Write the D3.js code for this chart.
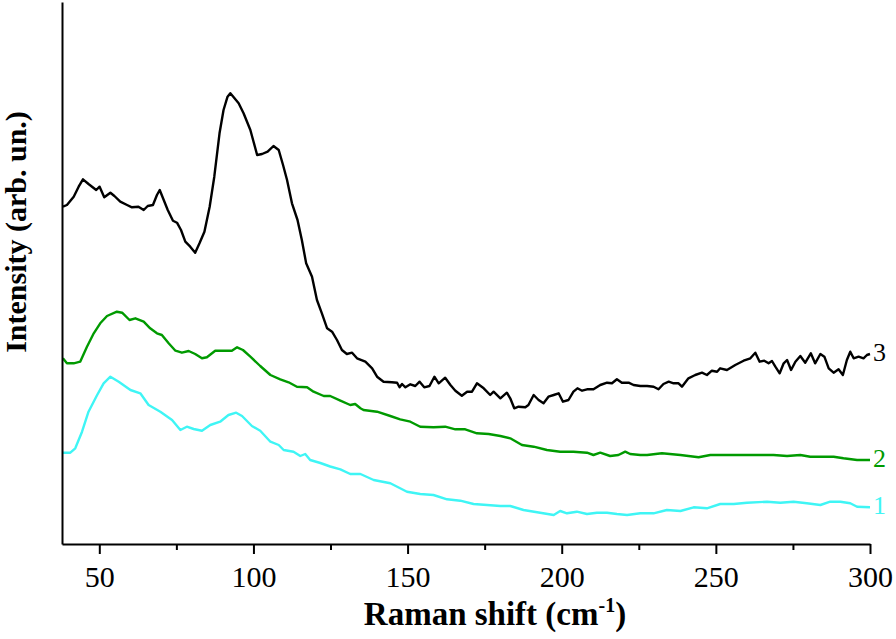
<!DOCTYPE html>
<html>
<head>
<meta charset="utf-8">
<script src="https://cdn.jsdelivr.net/npm/d3@7"></script>
<style>
  html, body { margin: 0; padding: 0; background: #fff; }
  svg { display: block; }
</style>
</head>
<body>
<svg id="chart" width="896" height="639"></svg>
<script>
// Raman shift (cm-1) positions and intensities (arb. un.)
const series3X = [38.2,39.5,41.7,43.3,44.7,46.5,49.0,50.1,51.6,53.6,54.9,56.8,59.0,60.6,62.7,64.4,65.7,67.4,68.7,69.6,70.9,72.2,73.9,75.2,76.5,77.9,79.5,81.1,82.5,84.1,85.8,87.3,89.0,90.3,91.6,92.5,93.6,95.2,96.8,99.0,101.2,102.8,104.6,106.5,108.2,109.6,110.9,112.5,114.3,115.7,117.1,119.0,120.6,122.2,123.9,125.5,127.1,128.7,130.3,132.0,133.6,136.3,138.5,140.1,142.2,144.9,146.6,147.4,148.2,149.3,150.9,152.5,153.9,155.4,157.1,158.7,160.1,162.2,163.9,165.5,167.6,169.3,170.9,172.5,174.7,176.8,177.9,180.1,182.2,183.3,184.6,186.0,188.2,189.2,190.9,192.5,194.1,195.7,197.4,199.0,200.4,202.2,203.8,205.1,206.6,208.2,210.3,212.5,214.7,216.3,217.9,219.5,221.7,223.3,225.5,227.7,229.8,231.4,233.0,234.7,236.3,237.9,239.0,241.1,243.3,245.5,247.1,248.7,250.4,251.4,253.6,256.3,259.0,261.2,262.8,264.2,265.7,267.1,268.2,269.3,270.7,272.0,273.1,274.4,275.8,277.4,279.0,280.8,282.2,283.9,285.2,286.6,288.2,289.8,291.2,292.5,293.6,294.7,296.3,297.9,299.0,300.0];
const series3Y = [337.3,339,347.3,357.3,364.7,360,354,357.3,346.7,351.3,348,342.3,339,336.7,337.3,334,338,339,349,354,344,334,323.3,321.3,314,302.3,297.3,291.3,300.7,312.3,337.3,367.3,410.7,434,447.3,450.7,446.7,440.7,430.7,414,389,390,392.3,398,394,379,364,340.7,324,304,280.7,267.3,244,230.7,215.7,212.3,204,194,190,191.3,185.7,182.3,175.7,167.3,162.3,161.7,161.3,156.7,160,156.7,159.7,158,162.3,156.7,158,167.3,160.7,166.3,159,153.3,148.3,152.3,152.3,160.7,155.7,149,152.3,145.7,151.3,145.7,135.7,137.3,136.7,139,149,144,140.7,147.3,149,150.7,142.3,144,152.3,155.7,153.3,154.7,154.7,159,161.3,160.7,164.7,161.3,161.3,159,158,158,157.3,154.7,160,162.3,160.7,160.7,157.3,165.7,169,171.3,169,173.3,172.3,175.7,174,179,183.3,185.7,191.3,182.3,183.3,180.7,183,177.3,170.7,180.7,184,174,182.3,188,181.3,190.7,180.7,190,187.3,175.7,171.3,174.7,169,184,192.3,185.7,187.3,185.7,189,190];

const series2X = [38.2,39.5,41.7,43.8,46.0,48.2,50.3,52.5,55.7,57.4,59.8,61.7,64.4,66.5,68.7,70.3,72.5,74.7,76.8,79.0,81.1,83.3,84.9,87.6,90.3,93.0,94.7,96.6,99.0,102.2,105.5,108.7,111.4,114.1,117.4,119.5,122.8,124.9,128.2,131.4,133.0,134.7,135.7,140.1,144.4,147.6,150.9,154.1,158.4,162.2,165.5,168.7,172.5,176.3,180.1,183.3,187.1,190.9,195.2,199.5,203.8,208.2,210.3,212.5,215.7,218.4,220.6,222.2,225.5,227.7,232.5,238.5,244.4,248.2,251.4,256.8,262.2,268.7,273.1,277.4,280.6,284.9,288.2,291.4,295.8,300.0];
const series2Y = [185.7,180.7,180.7,182.3,197.3,210.7,220.7,228,232.3,231.3,224,225.7,222.3,215.7,210.7,209,200.7,193.3,191.3,193,190,185.7,186.7,193.3,193.3,193.3,196.7,194,187.3,178,169,164.7,161.7,157.3,156.7,152.3,148,148,143.3,139,140,135.7,134,132.3,128,124.7,122.3,117.3,116.7,117.3,114.7,114.7,110.7,110,108,105.7,99,97.3,94,92.3,92.3,91.3,89,91.3,88,89,92.3,90,89,89,90.7,89,86.7,89,89,89,89,89,88,89,87.3,87.3,87.3,85.7,84,84];

const series1X = [38.2,40.6,42.2,44.4,46.5,49.3,51.4,53.6,56.3,60.1,63.3,66.0,69.8,73.6,76.3,78.4,80.6,83.3,86.0,89.2,91.9,94.4,96.3,99.5,102.2,105.5,108.2,109.8,113.0,115.2,116.8,118.4,121.7,124.9,128.2,131.4,134.7,139.0,144.4,149.8,154.1,158.4,162.8,167.1,171.4,175.8,180.1,183.3,187.6,193.0,197.4,199.5,201.7,204.9,208.2,211.4,214.7,217.9,221.2,225.5,229.8,234.1,238.5,242.8,247.1,251.4,255.8,260.1,266.6,270.9,275.2,279.5,283.9,287.1,290.4,293.6,295.8,300.0];
const series1Y = [91.3,91.3,95.7,112.3,132.3,149,160.7,167.3,162.3,154,150.7,139,132.3,124,114,117.3,115,113.3,119,122.3,129,131.3,128,118,113.3,102.3,99,94,92.3,88,90,84,81,77.5,74.7,70,70,64,60.7,52.3,50,49,44.7,43.3,40,39,38,38,34,31.3,29,33,30.7,32.3,30,31.3,31.3,30,29,30.7,30.7,34,33,36.7,35.7,40,40,41.3,42.3,41.3,42.3,40.7,39,42.3,42.3,40.7,37.3,36.7];

const seriesLabels = ["1", "2", "3"];
const seriesColors = ["#3ff5f5", "#009a00", "#000000"];
const xTicks = [50, 100, 150, 200, 250, 300];
const xMinorTicks = [75, 125, 175, 225, 275];
const xTitle = "Raman shift (cm";
const xTitleSup = "-1";
const yTitle = "Intensity (arb. un.)";

const svg = d3.select("#chart");
const mLeft = 62, mRight = 870, mTop = 2, mBottom = 544;

const x = d3.scaleLinear().domain([37.9, 300]).range([mLeft, mRight]);
const y = d3.scaleLinear().domain([0, 542]).range([mBottom, mTop]);

const seriesData = [
  series1X.map((v, i) => [v, series1Y[i]]),
  series2X.map((v, i) => [v, series2Y[i]]),
  series3X.map((v, i) => [v, series3Y[i]])
];

const line = d3.line().x(d => x(d[0])).y(d => y(d[1]));

seriesData.forEach((data, i) => {
  svg.append("path")
    .datum(data)
    .attr("fill", "none")
    .attr("stroke", seriesColors[i])
    .attr("stroke-width", 2.4)
    .attr("stroke-linejoin", "round")
    .attr("d", line);
  const last = data[data.length - 1];
  svg.append("text")
    .attr("x", x(last[0]) + 3)
    .attr("y", y(last[1]) + 7)
    .attr("font-family", "'Liberation Serif', 'Times New Roman', serif")
    .attr("font-size", 26)
    .attr("fill", seriesColors[i])
    .text(seriesLabels[i]);
});

// Axes
const xAxis = svg.append("g")
  .attr("transform", `translate(0,${mBottom})`)
  .call(d3.axisBottom(x).tickValues(xTicks).tickSize(10).tickSizeOuter(0).tickPadding(12).tickFormat(d3.format("d")));
xAxis.select(".domain").attr("stroke-width", 2);
xAxis.selectAll(".tick line").attr("stroke-width", 2);
xAxis.selectAll(".tick text")
  .attr("font-family", "'Liberation Serif', 'Times New Roman', serif")
  .attr("font-size", 30)
  .attr("fill", "#000");

const xMinor = svg.append("g")
  .attr("transform", `translate(0,${mBottom})`)
  .call(d3.axisBottom(x).tickValues(xMinorTicks).tickSize(6).tickSizeOuter(0).tickFormat(""));
xMinor.select(".domain").remove();
xMinor.selectAll(".tick line").attr("stroke-width", 2);

const yAxis = svg.append("g")
  .attr("transform", `translate(${mLeft},0)`)
  .call(d3.axisLeft(y).tickValues([]).tickSizeOuter(0));
yAxis.select(".domain").attr("stroke-width", 2);

// Titles
const xt = svg.append("text")
  .attr("x", 495)
  .attr("y", 625)
  .attr("text-anchor", "middle")
  .attr("font-family", "'Liberation Serif', 'Times New Roman', serif")
  .attr("font-weight", "bold")
  .attr("font-size", 33)
  .attr("fill", "#000");
xt.append("tspan").text(xTitle);
xt.append("tspan").attr("font-size", 20).attr("dy", -13).text(xTitleSup);
xt.append("tspan").attr("dy", 13).text(")");

svg.append("text")
  .attr("transform", "translate(26,232) rotate(-90)")
  .attr("text-anchor", "middle")
  .attr("font-family", "'Liberation Serif', 'Times New Roman', serif")
  .attr("font-weight", "bold")
  .attr("font-size", 30)
  .attr("fill", "#000")
  .text(yTitle);
</script>
</body>
</html>
